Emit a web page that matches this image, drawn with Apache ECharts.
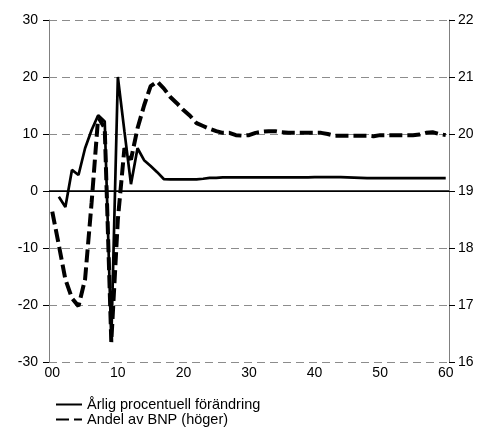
<!DOCTYPE html>
<html>
<head>
<meta charset="utf-8">
<script src="https://cdn.jsdelivr.net/npm/echarts@6/dist/echarts.min.js"></script>
<style>
  html, body { margin: 0; padding: 0; background: #fff; }
  #chart { width: 489px; height: 427px; }
</style>
</head>
<body>
<div id="chart"></div>
<script>
// years 2000-2060, shown as two digits
const years = [
  '00','01','02','03','04','05','06','07','08','09',
  '10','11','12','13','14','15','16','17','18','19',
  '20','21','22','23','24','25','26','27','28','29',
  '30','31','32','33','34','35','36','37','38','39',
  '40','41','42','43','44','45','46','47','48','49',
  '50','51','52','53','54','55','56','57','58','59',
  '60'
];

// Årlig procentuell förändring (vänster axel)
const annualChange = [
  null, -1.0, -2.8, 3.7, 2.8, 7.5, 10.7, 13.3, 12.2, -26.3,
  20.0, 10.5, 1.2, 7.5, 5.4, 4.4, 3.3, 2.1, 2.05, 2.05,
  2.05, 2.05, 2.05, 2.15, 2.3, 2.3, 2.4, 2.4, 2.4, 2.4,
  2.4, 2.4, 2.4, 2.4, 2.4, 2.4, 2.4, 2.4, 2.4, 2.4,
  2.45, 2.45, 2.45, 2.45, 2.45, 2.4, 2.35, 2.3, 2.25, 2.25,
  2.25, 2.25, 2.25, 2.25, 2.25, 2.25, 2.25, 2.25, 2.25, 2.25,
  2.25
];

// Andel av BNP (höger axel)
const gdpShare = [
  18.64, 18.05, 17.45, 17.12, 16.98, 17.45, 18.8, 20.3, 20.1, 16.35,
  18.5, 19.75, 19.55, 20.1, 20.5, 20.84, 20.92, 20.8, 20.65, 20.54,
  20.42, 20.32, 20.19, 20.14, 20.09, 20.05, 20.02, 20.02, 19.98, 19.97,
  19.98, 20.02, 20.04, 20.05, 20.05, 20.03, 20.02, 20.02, 20.02, 20.02,
  20.02, 20.02, 20.0, 19.97, 19.97, 19.97, 19.97, 19.97, 19.97, 19.96,
  19.98, 19.98, 19.98, 19.98, 19.98, 19.98, 19.99, 20.02, 20.03, 20.0,
  19.98
];

const seriesNames = ['Årlig procentuell förändring', 'Andel av BNP (höger)'];

const FONT = '"Liberation Sans", Arial, sans-serif';

const chart = echarts.init(document.getElementById('chart'));

// one legend per row so the two entries stack
const legendRow = (name, top) => ({
  orient: 'horizontal',
  left: 55,
  top: top,
  padding: 0,
  itemWidth: 26,
  itemHeight: 14,
  itemStyle: { opacity: 0 },
  textStyle: { color: '#000', fontSize: 14.5, fontFamily: FONT },
  data: [name]
});

chart.setOption({
  animation: false,
  backgroundColor: '#fff',
  textStyle: { fontFamily: FONT },
  grid: { left: 49, right: 40, top: 20, bottom: 65 },
  legend: [legendRow(seriesNames[0], 397), legendRow(seriesNames[1], 412)],
  xAxis: {
    type: 'category',
    data: years,
    boundaryGap: true,
    axisLine: { lineStyle: { color: '#000', width: 1 } },
    axisTick: { interval: 0, length: 5, lineStyle: { color: '#000' } },
    axisLabel: {
      interval: 9,
      color: '#000',
      fontSize: 14,
      margin: 4,
      fontFamily: FONT
    },
    splitLine: { show: false }
  },
  yAxis: [
    {
      type: 'value',
      min: -30,
      max: 30,
      interval: 10,
      axisLine: { show: true, lineStyle: { color: '#808080' } },
      axisTick: { show: true, length: 6, lineStyle: { color: '#000' } },
      axisLabel: { color: '#000', fontSize: 14, margin: 11, fontFamily: FONT },
      splitLine: {
        show: true,
        lineStyle: { color: '#8c8c8c', type: [8, 5], width: 1 }
      }
    },
    {
      type: 'value',
      min: 16,
      max: 22,
      interval: 1,
      position: 'right',
      axisLine: { show: true, lineStyle: { color: '#808080' } },
      axisTick: { show: true, length: 6, lineStyle: { color: '#000' } },
      axisLabel: { color: '#000', fontSize: 14, margin: 9, fontFamily: FONT },
      splitLine: { show: false }
    }
  ],
  series: [
    {
      name: seriesNames[0],
      type: 'line',
      yAxisIndex: 0,
      data: annualChange,
      symbol: 'none',
      connectNulls: false,
      lineStyle: { color: '#000', width: 2.7 },
      itemStyle: { color: '#000' },
      z: 4,
      markLine: {
        silent: true,
        symbol: 'none',
        label: { show: false },
        lineStyle: { color: '#000', type: 'solid', width: 1.5 },
        data: [{ yAxis: 0 }]
      }
    },
    {
      name: seriesNames[1],
      type: 'line',
      yAxisIndex: 1,
      data: gdpShare,
      symbol: 'none',
      lineStyle: { color: '#000', width: 4, type: [13, 5] },
      itemStyle: { color: '#000' },
      z: 3
    }
  ]
});
</script>
</body>
</html>
